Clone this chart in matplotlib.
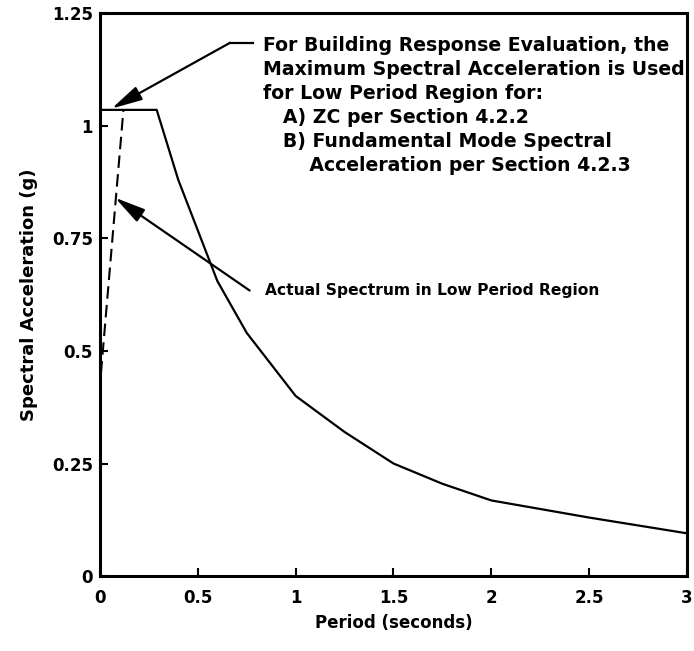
import matplotlib
matplotlib.use('Agg')
import matplotlib.pyplot as plt

# design spectrum (solid) and actual low period spectrum (dashed)
period = [0.0, 0.29, 0.40, 0.60, 0.75, 1.0, 1.25, 1.5, 1.75, 2.0, 2.5, 3.0]
accel = [1.035, 1.035, 0.88, 0.655, 0.54, 0.40, 0.32, 0.25, 0.205, 0.168, 0.13, 0.095]
period_low = [0.005, 0.12]
accel_low = [0.45, 1.035]

xticks = [0, 0.5, 1, 1.5, 2, 2.5, 3]
xticklabels = ['0', '0.5', '1', '1.5', '2', '2.5', '3']
yticks = [0, 0.25, 0.5, 0.75, 1, 1.25]
yticklabels = ['0', '0.25', '0.5', '0.75', '1', '1.25']

note_top = ("For Building Response Evaluation, the\n"
            "Maximum Spectral Acceleration is Used\n"
            "for Low Period Region for:\n"
            "   A) ZC per Section 4.2.2\n"
            "   B) Fundamental Mode Spectral\n"
            "       Acceleration per Section 4.2.3")
note_low = "Actual Spectrum in Low Period Region"

plt.rcParams['font.family'] = ['DejaVu Sans']

fig = plt.figure(figsize=(6.94, 6.51), dpi=100)
ax = fig.add_axes([0.144, 0.115, 0.846, 0.865])

ax.plot(period, accel, color='k', lw=1.6)
ax.plot(period_low, accel_low, color='k', lw=1.5, dashes=(6, 3))

ax.set_xlim(0, 3)
ax.set_ylim(0, 1.25)
ax.set_xticks(xticks)
ax.set_xticklabels(xticklabels, fontsize=12, fontweight='bold')
ax.set_yticks(yticks)
ax.set_yticklabels(yticklabels, fontsize=12, fontweight='bold')
ax.tick_params(direction='in', length=6, width=1.5)
ax.tick_params(axis='x', pad=9)
ax.tick_params(axis='y', pad=5)
for s in ax.spines.values():
    s.set_linewidth(2.2)

ax.set_xlabel('Period (seconds)', fontsize=12, fontweight='bold', labelpad=5)
ax.set_ylabel('Spectral Acceleration (g)', fontsize=13, fontweight='bold', labelpad=10)

arrow = dict(arrowstyle='-|>,head_length=0.75,head_width=0.18', color='k',
             lw=1.6, mutation_scale=25, shrinkA=0, shrinkB=0)

# top callout
ax.text(0.835, 1.2, note_top, fontsize=13.6, fontweight='bold',
        va='top', ha='left', linespacing=1.34)
ax.plot([0.665, 0.78], [1.184, 1.184], color='k', lw=1.6)
ax.annotate('', xy=(0.06, 1.038), xytext=(0.665, 1.184), arrowprops=arrow)

# low period callout
ax.text(0.845, 0.634, note_low, fontsize=11.2, fontweight='bold',
        va='center', ha='left')
ax.annotate('', xy=(0.077, 0.84), xytext=(0.765, 0.634), arrowprops=arrow)

fig.savefig('out.png', dpi=100)
